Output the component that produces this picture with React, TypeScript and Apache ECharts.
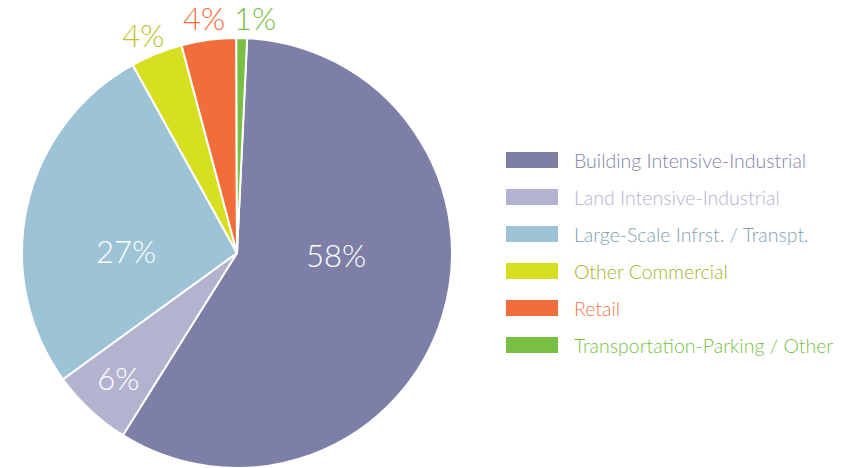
import React, { useEffect, useRef } from "react";
import * as echarts from "echarts";

const categories = [
  "Building Intensive-Industrial",
  "Land Intensive-Industrial",
  "Large-Scale Infrst. / Transpt.",
  "Other Commercial",
  "Retail",
  "Transportation-Parking / Other",
];
const values = [58.1, 6.1, 26.9, 3.9, 4.1, 0.8];
const labels = ["58%", "6%", "27%", "4%", "4%", "1%"];
const colors = ["#7e7fa6", "#b3b3cf", "#9dc3d6", "#d7df21", "#f36d3b", "#78bf44"];
const legendTextColors = ["#8283a9", "#b3b3cf", "#7f9fb2", "#a8b22a", "#f47a4f", "#78bf44"];
const labelColors = ["#ffffff", "#ffffff", "#ffffff", "#bcc42a", "#f36d3b", "#78bf44"];

const CX = 237;
const CY = 253;
const R = 215;
// label placement: [radius, angle clockwise from top in degrees]
const labelPolar: [number, number][] = [
  [99, 91],
  [172, 223.6],
  [111, 271],
  [237, 336.7],
  [237, 352],
  [236, 4.4],
];

export default function App() {
  const ref = useRef<HTMLDivElement>(null);
  useEffect(() => {
    if (!ref.current) return;
    const chart = echarts.init(ref.current, undefined, { renderer: "svg" });
    const font = "Lato, 'Open Sans', sans-serif";
    chart.setOption({
      animation: false,
      backgroundColor: "#ffffff",
      legend: {
        orient: "vertical",
        left: 504,
        top: 150,
        padding: 0,
        itemWidth: 54,
        itemHeight: 18,
        itemGap: 17,
        icon: "rect",
        selectedMode: false,
        data: categories.map((c, i) => ({
          name: c,
          textStyle: { color: legendTextColors[i] },
        })),
        textStyle: {
          fontFamily: font,
          fontSize: 19.5,
          fontWeight: 300,
          lineHeight: 18,
          padding: [0, 0, 0, 10],
        },
      },
      series: [
        {
          type: "pie",
          center: [CX, CY],
          radius: R,
          startAngle: 87.3,
          clockwise: true,
          avoidLabelOverlap: false,
          itemStyle: { borderColor: "#ffffff", borderWidth: 2 },
          labelLine: { show: false },
          label: {
            show: true,
            position: "inside",
            fontFamily: font,
            fontWeight: 300,
            fontSize: 31,
          },
          labelLayout: (p: any) => {
            const [r, a] = labelPolar[p.dataIndex];
            const rad = (a * Math.PI) / 180;
            return {
              x: CX + r * Math.sin(rad),
              y: CY - r * Math.cos(rad),
              align: "center",
              verticalAlign: "middle",
            };
          },
          data: categories.map((c, i) => ({
            name: c,
            value: values[i],
            itemStyle: { color: colors[i] },
            label: { formatter: labels[i], color: labelColors[i] },
          })),
        },
      ],
    });
    return () => chart.dispose();
  }, []);
  return (
    <div
      ref={ref}
      style={{ position: "fixed", left: 0, top: 0, width: 852, height: 468 }}
    />
  );
}
